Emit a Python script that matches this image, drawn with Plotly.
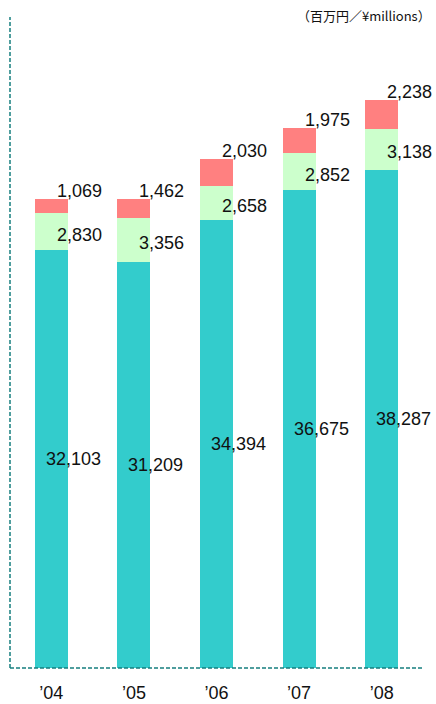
import plotly.graph_objects as go

years = ["’04", "’05", "’06", "’07", "’08"]
base_vals = [32103, 31209, 34394, 36675, 38287]
mid_vals = [2830, 3356, 2658, 2852, 3138]
top_vals = [1069, 1462, 2030, 1975, 2238]
unit_label = "（百万円／¥millions）"

C_BASE = "#33CCCC"
C_MID = "#CCFFCC"
C_TOP = "#FF8080"
AXIS_C = "#167F7F"
FONT = "Liberation Sans, Arial, sans-serif"

fig = go.Figure()
for vals, col in [(base_vals, C_BASE), (mid_vals, C_MID), (top_vals, C_TOP)]:
    fig.add_trace(go.Bar(x=years, y=vals, marker=dict(color=col, line=dict(width=0)),
                         hoverinfo="skip"))

def fmt(v):
    return f"{v:,}"

anns = []
for i, y in enumerate(years):
    b, m, t = base_vals[i], mid_vals[i], top_vals[i]
    anns.append(dict(x=y, y=b / 2, text=fmt(b), showarrow=False, xshift=22,
                     font=dict(size=18, color="#111", family=FONT)))
    anns.append(dict(x=y, y=b + m / 2, text=fmt(m), showarrow=False, xshift=28, yshift=-3,
                     font=dict(size=18, color="#111", family=FONT)))
    anns.append(dict(x=y, y=b + m + t, text=fmt(t), showarrow=False, xshift=28, yshift=8,
                     font=dict(size=18, color="#111", family=FONT)))

anns.append(dict(xref="paper", yref="paper", x=1.0, y=1.0, xanchor="right", yanchor="middle",
                 text=unit_label, showarrow=False, yshift=2, xshift=10,
                 font=dict(size=13, color="#111", family="Noto Sans CJK JP, " + FONT)))

fig.update_layout(
    barmode="stack",
    bargap=0.6,
    width=436, height=704,
    autosize=False,
    margin=dict(l=10, r=13, t=17, b=36, autoexpand=False),
    paper_bgcolor="white", plot_bgcolor="white",
    showlegend=False,
    annotations=anns,
    xaxis=dict(range=[-0.5, len(years) - 0.5], showgrid=False, zeroline=False, showline=False,
               ticks="", automargin=False,
               tickfont=dict(size=18, color="#111", family=FONT), ticklabelstandoff=12),
    yaxis=dict(range=[0, 50000], showgrid=False, zeroline=False, showline=False,
               showticklabels=False, ticks="", automargin=False),
    shapes=[
        dict(type="line", xref="paper", yref="paper", x0=0, x1=0, y0=0, y1=1,
             line=dict(color=AXIS_C, width=1.5, dash="4px,2px")),
        dict(type="line", xref="paper", yref="paper", x0=0, x1=1, y0=0, y1=0,
             line=dict(color=AXIS_C, width=1.5, dash="4px,2px")),
    ],
)

fig.write_html("out.html",
               config={"displayModeBar": False, "responsive": False},
               post_script="document.body.style.margin='0';document.body.style.overflow='hidden';")
